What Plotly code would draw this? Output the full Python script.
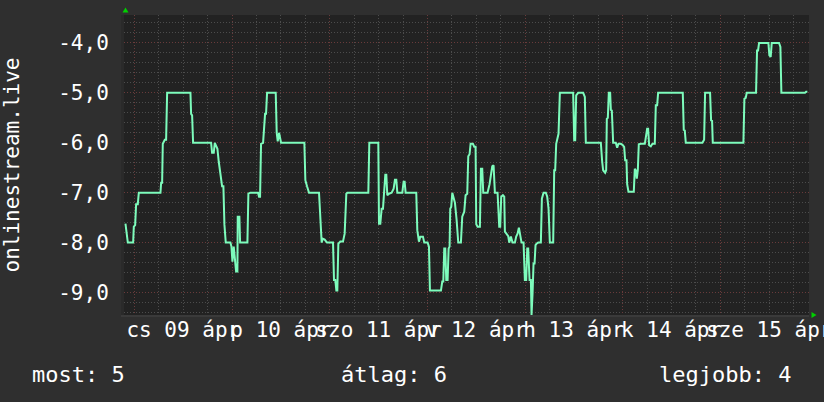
import pandas as pd
import plotly.graph_objects as go

# ---------------- data ----------------
base_day = "2020-04-09 00:00"          # Thursday (cs), 09 April
hours = [
    -2.21, -1.96, -1.63, -0.32, -0.16, 0.17, 0.41, 0.82, 1.07, 6.39, 6.56, 6.80, 6.96, 7.46, 7.78, 8.03,
    13.76, 13.92, 14.17, 14.41, 18.84, 19.08, 19.49, 19.74, 20.06, 20.39, 20.72, 21.13, 21.54, 21.86,
    22.11, 22.44, 23.58, 23.83, 24.08, 24.40, 24.65, 24.98, 25.30, 25.38, 25.79, 25.96, 27.76, 28.00,
    28.49, 30.38, 30.62, 30.87, 31.11, 31.61, 32.10, 32.34, 32.59, 34.72, 34.96, 35.21, 35.54, 35.78,
    36.03, 41.76, 42.00, 42.41, 42.90, 45.36, 45.61, 46.01, 46.26, 46.75, 47.32, 48.80, 49.04, 49.37,
    49.62, 49.86, 50.11, 50.60, 51.25, 51.66, 52.07, 52.32, 57.48, 57.72, 59.93, 60.10, 60.42, 60.75,
    61.08, 61.40, 61.65, 61.90, 62.14, 62.55, 63.21, 63.70, 64.02, 64.35, 64.60, 65.83, 66.15, 66.40,
    66.64, 69.26, 69.51, 69.92, 70.25, 70.90, 71.23, 72.05, 72.38, 72.62, 75.32, 75.65, 75.90, 76.14,
    76.39, 76.63, 76.96, 77.21, 77.45, 77.61, 77.86, 78.11, 78.35, 78.76, 79.17, 79.58, 80.23, 80.56,
    81.05, 81.38, 81.79, 82.04, 82.36, 82.61, 83.18, 83.51, 83.84, 84.00, 84.33, 84.90, 85.15, 85.47,
    85.72, 86.78, 87.27, 87.60, 87.93, 88.26, 88.58, 89.24, 89.65, 89.89, 90.14, 90.55, 90.88, 91.04,
    91.53, 91.86, 92.11, 92.51, 92.92, 93.50, 93.82, 94.15, 94.48, 94.81, 95.13, 95.63, 95.95, 96.28,
    96.53, 96.77, 97.10, 97.43, 97.59, 97.84, 98.08, 98.33, 98.57, 98.82, 99.23, 99.88, 100.13, 100.54,
    101.11, 101.44, 101.77, 102.09, 102.91, 103.16, 103.40, 103.65, 103.98, 104.22, 104.55, 107.82,
    108.07, 108.32, 108.56, 109.05, 110.28, 110.69, 110.93, 114.62, 114.95, 115.19, 115.68, 115.93,
    116.09, 116.34, 116.58, 116.91, 117.08, 117.32, 117.65, 118.30, 118.63, 118.96, 119.53, 119.94,
    120.35, 120.60, 120.92, 121.09, 121.41, 122.72, 122.97, 123.22, 123.46, 123.71, 123.95, 124.44,
    125.43, 125.75, 126.00, 126.24, 126.49, 126.90, 127.31, 127.88, 128.13, 128.46, 128.70, 134.76,
    135.00, 135.25, 135.50, 139.59, 140.00, 140.24, 141.47, 141.72, 141.96, 142.13, 149.66, 149.90,
    150.23, 150.48, 152.77, 153.01, 153.26, 153.51, 155.80, 156.04, 156.37, 156.62, 158.42, 158.75,
    158.99, 164.80, 165.05, 165.38,
]
vals = [
    -7.62, -7.78, -8.0, -8.0, -7.68, -7.65, -7.23, -7.23, -7.0, -7.0, -6.8, -6.8, -6.02, -5.94, -5.94, -5.0,
    -5.0, -5.42, -5.45, -6.0, -6.0, -6.2, -6.2, -6.0, -6.08, -6.12, -6.38, -6.58, -6.87, -6.87,
    -7.64, -8.0, -8.0, -8.08, -8.38, -8.08, -8.38, -8.58, -8.58, -7.48, -7.48, -8.0, -8.0, -7.02,
    -7.0, -7.0, -7.08, -7.08, -6.02, -6.0, -5.42, -5.42, -5.0, -5.0, -5.8, -5.97, -5.8, -5.95,
    -6.0, -6.0, -6.75, -6.87, -7.0, -7.0, -7.45, -8.0, -7.92, -7.94, -8.0, -8.0, -8.75, -8.75,
    -8.96, -8.96, -8.02, -7.98, -7.98, -7.82, -7.02, -7.0, -7.0, -6.0, -6.0, -7.62, -7.62, -7.32,
    -7.32, -6.95, -6.64, -6.64, -7.05, -7.02, -7.0, -6.92, -6.74, -6.74, -7.0, -7.0, -6.78, -6.78,
    -7.0, -7.0, -7.75, -7.98, -7.88, -7.88, -8.0, -8.0, -8.08, -8.96, -8.96, -8.78, -8.78, -8.12,
    -8.12, -8.75, -8.75, -8.12, -8.08, -7.32, -7.28, -7.0, -7.07, -7.2, -7.54, -8.0, -8.0, -7.48,
    -7.38, -7.05, -7.02, -6.27, -6.23, -6.02, -6.02, -6.08, -6.08, -7.63, -7.68, -7.68, -6.52, -6.52,
    -7.0, -7.0, -6.83, -6.62, -6.47, -6.45, -7.0, -7.0, -7.68, -7.68, -7.08, -7.05, -7.08, -7.78,
    -7.83, -7.87, -8.0, -7.88, -8.0, -8.0, -7.88, -7.82, -7.7, -7.82, -8.0, -8.0, -8.75, -8.75,
    -8.12, -8.12, -8.75, -8.75, -9.45, -9.02, -8.42, -8.42, -8.05, -8.02, -8.0, -8.0, -7.12, -7.0,
    -7.0, -7.08, -7.32, -8.0, -8.0, -6.55, -6.55, -6.02, -5.87, -5.82, -5.0, -5.0,
    -5.95, -5.95, -5.05, -5.0, -5.0, -5.08, -6.0, -6.0, -6.38, -6.55, -6.6, -6.55,
    -5.52, -5.5, -5.0, -5.0, -5.34, -5.35, -6.0, -6.0, -6.1, -6.02, -6.02, -6.04,
    -6.08, -6.35, -6.35, -6.83, -6.98, -6.98, -6.52, -6.55, -6.72, -6.55, -6.03, -6.02,
    -6.02, -5.88, -5.72, -5.72, -6.05, -6.07, -6.02, -6.02, -5.25, -5.25, -5.0, -5.0,
    -5.74, -5.75, -6.0, -6.0, -5.94, -5.0, -5.0, -5.55, -5.56, -6.0, -6.0, -5.12,
    -5.1, -5.0, -5.0, -4.15, -4.15, -4.0, -4.0, -4.25, -4.28, -4.0, -4.0, -4.08,
    -5.0, -5.0, -4.98, -4.98,
]
day_labels = ["cs 09 ápr", "p 10 ápr", "szo 11 ápr", "v 12 ápr", "h 13 ápr", "k 14 ápr", "sze 15 ápr"]
y_tickvals = [-9, -8, -7, -6, -5, -4]
y_ticktext = ["-9,0", "-8,0", "-7,0", "-6,0", "-5,0", "-4,0"]
x_range_hours = [-2.57, 165.78]
y_range = [-9.45, -3.44]
y_title = "onlinestream.live"
summary_text = ["most: 5", "átlag: 6", "legjobb: 4"]

# ---------------- build ----------------
base = pd.Timestamp(base_day)
times = [base + pd.Timedelta(hours=h) for h in hours]
xr = [base + pd.Timedelta(hours=h) for h in x_range_hours]
noon = [base + pd.Timedelta(hours=12 + 24 * i) for i in range(len(day_labels))]

W, H = 824, 402
L, R, T, B = 123.5, 15, 15, 87
pw, ph = W - L - R, H - T - B

def px(xp):
    return (xp - L) / pw

def py(yp):
    return (H - B - yp) / ph

FONT = "DejaVu Sans Mono"
PAPER = "#2f2f2f"
PLOT = "#222222"
MINOR = "#4c4c4c"
MAJOR = "#693b3b"
LINE = "#7dfcbc"
DOT = "1px,2px"

fig = go.Figure()
fig.add_trace(go.Scatter(x=times, y=vals, mode="lines",
                         line=dict(color=LINE, width=2), hoverinfo="skip"))
fig.add_trace(go.Scatter(x=[xr[0]], y=[None], xaxis="x2", mode="lines", hoverinfo="skip"))

fig.update_layout(
    width=W, height=H, autosize=False,
    margin=dict(l=L, r=R, t=T, b=B, pad=0, autoexpand=False),
    paper_bgcolor=PAPER, plot_bgcolor=PLOT,
    showlegend=False,
    font=dict(family=FONT, color="white", size=21),
    xaxis=dict(
        type="date", range=xr, showticklabels=False, ticks="", automargin=False,
        tick0=base_day, dtick=86400000,
        showgrid=True, gridcolor=MAJOR, griddash=DOT, gridwidth=1,
        minor=dict(dtick=6 * 3600000, tick0=base_day, showgrid=True, gridcolor=MINOR,
                   griddash=DOT, gridwidth=1),
        zeroline=False, showline=True, linecolor="#3a3a3a", linewidth=2,
    ),
    xaxis2=dict(
        type="date", range=xr, overlaying="x", anchor="free", position=0.012, side="bottom",
        tickmode="array", tickvals=noon, ticktext=day_labels, tickangle=0, automargin=False,
        ticklabeloverflow="allow", showgrid=False, zeroline=False, ticks="",
        ticklabelstandoff=4, tickfont=dict(family=FONT, size=21, color="white"),
        showline=False,
    ),
    yaxis=dict(
        range=y_range, tickmode="array", tickvals=y_tickvals, ticktext=y_ticktext,
        showgrid=True, gridcolor=MAJOR, griddash=DOT, gridwidth=1,
        minor=dict(dtick=0.2, tick0=0, showgrid=True, gridcolor=MINOR, griddash=DOT, gridwidth=1),
        zeroline=False, ticks="", ticklabelstandoff=8,
        tickfont=dict(family=FONT, size=21, color="white"),
        showline=True, linecolor="#2a2a2a", linewidth=3,
        title=dict(text=y_title, font=dict(family=FONT, size=21, color="white"), standoff=37),
        automargin=False,
    ),
)

# axis arrows
GREEN = "#00d000"
fig.add_shape(type="path", xref="paper", yref="paper",
              path=f"M {px(122.0)} {py(12.5)} L {px(128.0)} {py(12.5)} L {px(125.0)} {py(7.5)} Z",
              fillcolor=GREEN, line=dict(width=0))
fig.add_shape(type="path", xref="paper", yref="paper",
              path=f"M {px(811.5)} {py(312.0)} L {px(811.5)} {py(318.0)} L {px(816.5)} {py(315.0)} Z",
              fillcolor=GREEN, line=dict(width=0))

# summary line
ann_y = py(374)
fig.add_annotation(text=summary_text[0], x=px(29.5), y=ann_y, xref="paper", yref="paper",
                   xanchor="left", yanchor="middle", showarrow=False,
                   font=dict(family=FONT, size=22, color="white"))
fig.add_annotation(text=summary_text[1], x=px(338.5), y=ann_y, xref="paper", yref="paper",
                   xanchor="left", yanchor="middle", showarrow=False,
                   font=dict(family=FONT, size=22, color="white"))
fig.add_annotation(text=summary_text[2], x=px(793), y=ann_y, xref="paper", yref="paper",
                   xanchor="right", yanchor="middle", showarrow=False,
                   font=dict(family=FONT, size=22, color="white"))

fig.write_html("out.html", config={"displayModeBar": False},
               post_script="document.body.style.margin='0';document.body.style.overflow='hidden';")
